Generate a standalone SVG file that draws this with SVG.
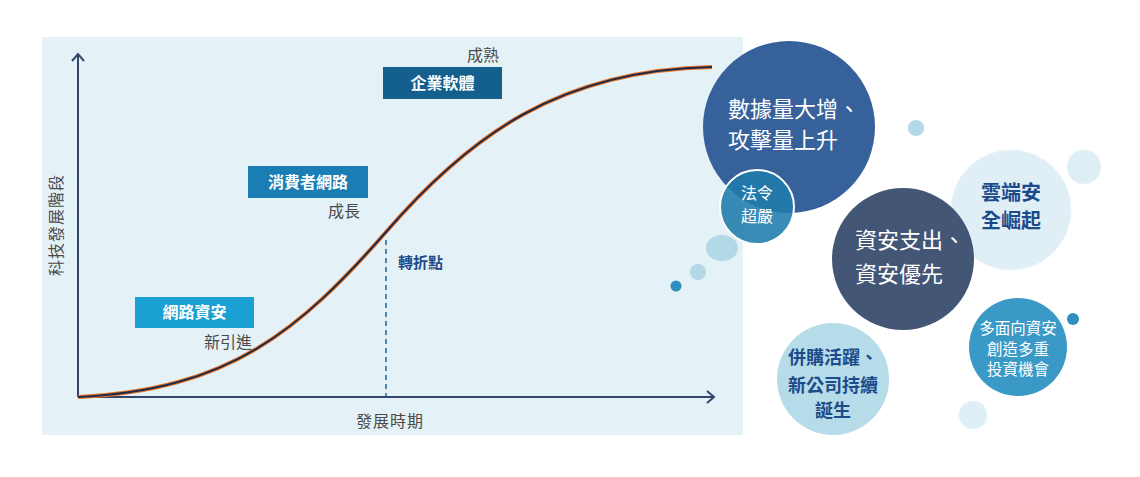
<svg xmlns="http://www.w3.org/2000/svg" width="1140" height="477" viewBox="0 0 1140 477">
<style>
text{font-family:"Noto Sans CJK TC","Noto Sans CJK SC",sans-serif}
.gray{fill:#4a4a4a;font-size:16px}
.box{fill:#fff;font-size:16px;font-weight:bold;text-anchor:middle}
.wt{fill:#fff}
.db{fill:#1d4a8a;font-weight:bold}
.axis{stroke:#34476a;stroke-width:2;fill:none}
</style>
<rect x="42" y="37" width="701" height="398" fill="#e4f1f6"/>
<g id="connectors">
<path class="axis" d="M78,397 V54"/>
<path class="axis" d="M72,61 L78,54 L84,61"/>
<path class="axis" d="M78,397 H714"/>
<path class="axis" d="M707,391 L714,397 L707,403"/>
<path d="M386,240 V396" stroke="#2f6fa0" stroke-width="1.6" stroke-dasharray="5,4" fill="none"/>
<path d="M78,397 C230,390 300,330 386,232 C470,135 560,70 712,67" stroke="#e8762c" stroke-width="4" fill="none"/>
<path d="M78,397 C230,390 300,330 386,232 C470,135 560,70 712,67" stroke="#1e2a48" stroke-width="2" fill="none"/>
</g>
<text class="gray" x="62" y="225" text-anchor="middle" transform="rotate(-90 62 225)" letter-spacing="1">科技發展階段</text>
<text class="gray" x="390" y="427" text-anchor="middle" letter-spacing="1">發展時期</text>
<g id="n-enterprise">
<rect x="383" y="67" width="119" height="32" fill="#135f8e"/>
<text class="box" x="442.5" y="89">企業軟體</text>
<text class="gray" x="499" y="61" text-anchor="end">成熟</text>
</g>
<g id="n-consumer">
<rect x="248" y="166" width="120" height="32" fill="#1a7db4"/>
<text class="box" x="308" y="188">消費者網路</text>
<text class="gray" x="360" y="217" text-anchor="end">成長</text>
</g>
<g id="n-netsec">
<rect x="135" y="297" width="119" height="31" fill="#1aa0d2"/>
<text class="box" x="194.5" y="318">網路資安</text>
<text class="gray" x="252" y="348" text-anchor="end">新引進</text>
</g>
<g id="n-turning">
<text class="db" x="398" y="268" font-size="15">轉折點</text>
</g>
<g id="deco">
<ellipse cx="722" cy="248" rx="16" ry="13" fill="#b3d9e6"/>
<circle cx="698" cy="272" r="8" fill="#b3d9e6"/>
<circle cx="676" cy="286" r="5.5" fill="#2f8fc0"/>
<circle cx="916" cy="128" r="8" fill="#b3d9e6"/>
<circle cx="1084" cy="167" r="17" fill="#ddeff5" stroke="#eaf5f9" stroke-width="1"/>
<circle cx="1073" cy="319" r="6" fill="#2f8fc0"/>
<circle cx="973" cy="415" r="14" fill="#ddeff5" stroke="#eaf5f9" stroke-width="1"/>
</g>
<g id="b-data">
<circle cx="789" cy="127" r="86" fill="#37619b"/>
<text class="wt" x="728" y="117" font-size="22">數據量大增、</text>
<text class="wt" x="728" y="148" font-size="22">攻擊量上升</text>
</g>
<g id="b-law">
<circle cx="757" cy="207" r="37" fill="#1f7bab" fill-opacity="0.88" stroke="#fff" stroke-width="2"/>
<text class="wt" x="757" y="199" font-size="16" text-anchor="middle">法令</text>
<text class="wt" x="757" y="222" font-size="16" text-anchor="middle">超嚴</text>
</g>
<g id="b-cloud">
<circle cx="1011" cy="210" r="60" fill="#e0eff5" stroke="#eaf5f9" stroke-width="1"/>
<text class="db" x="1011" y="200" font-size="20" text-anchor="middle">雲端安</text>
<text class="db" x="1011" y="228" font-size="20" text-anchor="middle">全崛起</text>
</g>
<g id="b-spend">
<circle cx="903" cy="259" r="71" fill="#445675"/>
<text class="wt" x="855" y="248" font-size="22">資安支出、</text>
<text class="wt" x="855" y="282" font-size="22">資安優先</text>
</g>
<g id="b-multi">
<circle cx="1018" cy="347" r="49" fill="#3a99c6"/>
<text class="wt" x="1018" y="334" font-size="15.5" text-anchor="middle">多面向資安</text>
<text class="wt" x="1018" y="354.5" font-size="15.5" text-anchor="middle">創造多重</text>
<text class="wt" x="1018" y="375" font-size="15.5" text-anchor="middle">投資機會</text>
</g>
<g id="b-ma">
<circle cx="833" cy="379" r="56" fill="#b5dce8"/>
<text class="db" x="833" y="364" font-size="18" text-anchor="middle">併購活躍、</text>
<text class="db" x="833" y="392" font-size="18" text-anchor="middle">新公司持續</text>
<text class="db" x="833" y="417" font-size="18" text-anchor="middle">誕生</text>
</g>
</svg>
